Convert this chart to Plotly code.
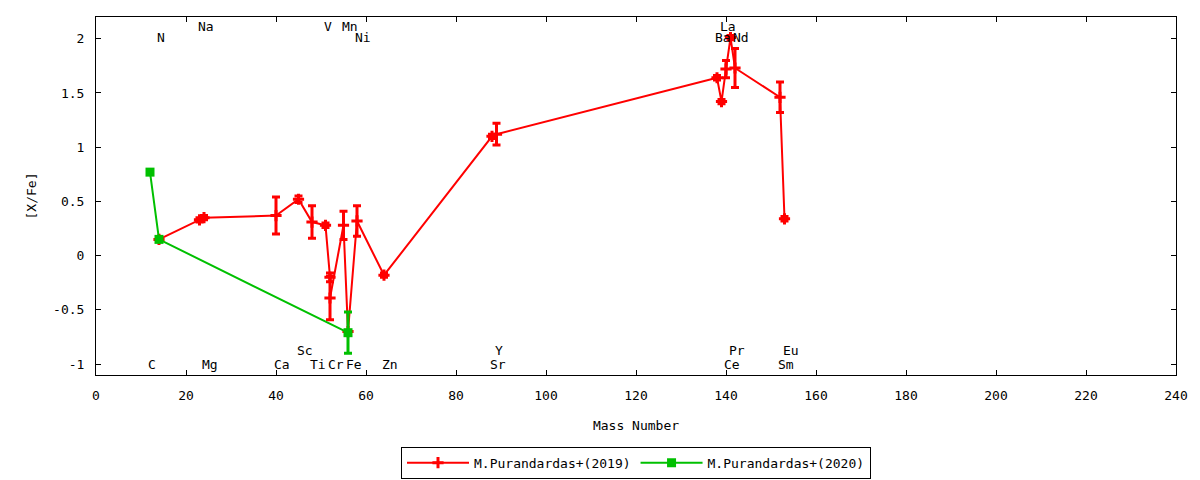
import plotly.graph_objects as go

# M.Purandardas+(2019)
mass_2019 = [14, 23, 24, 40, 45, 48, 51, 52, 52, 55, 56, 58, 64, 88, 89, 138, 139, 140, 141, 142, 152, 153]
xfe_2019 = [0.15, 0.33, 0.35, 0.37, 0.52, 0.31, 0.28, -0.20, -0.39, 0.28, -0.70, 0.32, -0.18,
            1.10, 1.12, 1.64, 1.42, 1.72, 2.01, 1.73, 1.46, 0.34]
err_2019 = [0.0, 0.02, 0.02, 0.17, 0.03, 0.15, 0.02, 0.04, 0.20, 0.13, 0.0, 0.14, 0.02,
            0.02, 0.10, 0.02, 0.02, 0.08, 0.02, 0.18, 0.14, 0.02]

# M.Purandardas+(2020)
mass_2020 = [12, 14, 56]
xfe_2020 = [0.77, 0.15, -0.71]
err_2020 = [0.0, 0.0, 0.19]

# element labels (name, mass, row)
elem_names = ["C", "N", "Na", "Mg", "Ca", "Sc", "Ti", "V", "Cr", "Mn", "Fe", "Ni", "Zn",
              "Sr", "Y", "Ba", "La", "Ce", "Pr", "Nd", "Sm", "Eu"]
elem_mass = [12, 14, 23, 24, 40, 45, 48, 51, 52, 55, 56, 58, 64,
             88, 89, 138, 139, 140, 141, 142, 152, 153]
elem_row = [-1.0, 2.01, 2.11, -1.0, -1.0, -0.87, -1.0, 2.11, -1.0, 2.11, -1.0, 2.01, -1.0,
            -1.0, -0.87, 2.01, 2.11, -1.0, -0.87, 2.01, -1.0, -0.87]

y_ticks = [-1, -0.5, 0, 0.5, 1, 1.5, 2]
y_ticktext = ["-1", "-0.5", "0", "0.5", "1", "1.5", "2"]

FONT = "DejaVu Sans Mono"
RED = "#ff0000"
GREEN = "#00c000"

fig = go.Figure()

fig.add_trace(go.Scatter(
    x=mass_2019, y=xfe_2019, mode="lines+markers", name="M.Purandardas+(2019)",
    line=dict(color=RED, width=2),
    marker=dict(symbol="cross-thin", size=8, color=RED, line=dict(color=RED, width=3)),
    error_y=dict(type="data", array=err_2019, color=RED, thickness=3, width=4),
))

fig.add_trace(go.Scatter(
    x=mass_2020, y=xfe_2020, mode="lines+markers", name="M.Purandardas+(2020)",
    line=dict(color=GREEN, width=2),
    marker=dict(symbol="square", size=9, color=GREEN),
    error_y=dict(type="data", array=err_2020, color=GREEN, thickness=3, width=4),
))

for name, m, row in zip(elem_names, elem_mass, elem_row):
    fig.add_annotation(x=m - 0.8, y=row, text=name, showarrow=False,
                       xanchor="left", yanchor="middle",
                       font=dict(family=FONT, size=13, color="black"))

axis_common = dict(
    showline=True, linecolor="black", linewidth=1, mirror="ticks",
    ticks="inside", ticklen=5, tickcolor="black", showgrid=False, zeroline=False,
    tickfont=dict(family=FONT, size=13, color="black"),
    title_font=dict(family=FONT, size=13, color="black"),
)

fig.update_xaxes(range=[0, 240], dtick=20, tick0=0, title_text="Mass Number",
                 ticklabelstandoff=8, title_standoff=19, **axis_common)
fig.update_yaxes(range=[-1.1, 2.2], tickvals=y_ticks, ticktext=y_ticktext,
                 title_text="[X/Fe]", ticklabelstandoff=8, title_standoff=13, **axis_common)

fig.update_layout(
    width=1200, height=480,
    margin=dict(l=88, r=32, t=9, b=113, autoexpand=False),
    plot_bgcolor="white", paper_bgcolor="white",
    font=dict(family=FONT, size=13, color="black"),
    legend=dict(orientation="h", x=0.5, xanchor="center", y=-0.245, yanchor="middle",
                bordercolor="black", borderwidth=1, bgcolor="white", itemwidth=62,
                font=dict(family=FONT, size=13, color="black")),
)

fig.write_html("out.html")
